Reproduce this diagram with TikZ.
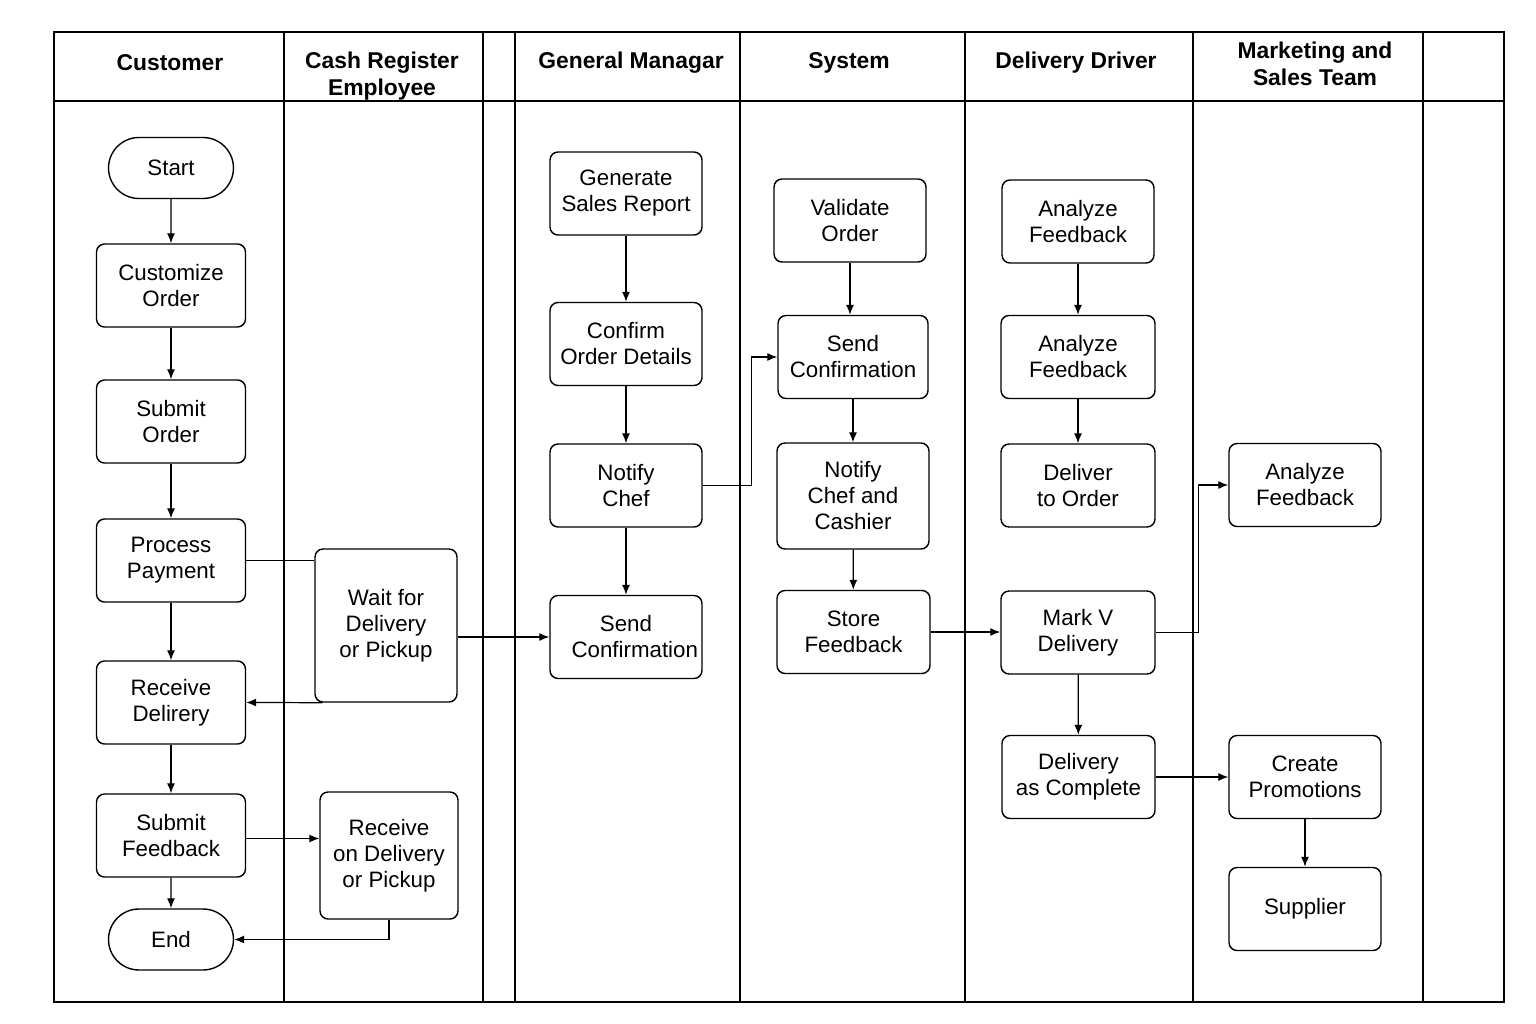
\documentclass[tikz,border=0pt]{standalone}
\usepackage{fontspec}
\setmainfont{Liberation Sans}
\usetikzlibrary{arrows.meta,shapes.misc,calc}
\begin{document}
\begin{tikzpicture}[x=0.02cm,y=-0.02cm,
  txt/.style={font=\fontsize{12.7}{14.8}\selectfont},
  box/.style={draw, line width=0.8pt, rounded corners=0.16cm, align=center, inner sep=0pt,
    minimum width=3.04cm, minimum height=1.66cm, txt},
  term/.style={draw, line width=0.8pt, rounded rectangle, align=center, inner sep=0pt,
    minimum width=2.5cm, minimum height=1.22cm, txt},
  hdr/.style={font=\bfseries\fontsize{13}{15.3}\selectfont, align=center},
  arr/.style={-{Latex[length=2mm,width=1.6mm]}, line width=0.7pt},
  ln/.style={line width=0.7pt},
  frame/.style={line width=0.8pt}]
\useasboundingbox (0,0) rectangle (1536,1024);
% lanes
\draw[frame] (54,32) rectangle (1504,1002);
\draw[frame] (54,101) -- (1504,101);
\foreach \xx in {284,483,515,740,965,1193,1423}
  \draw[frame] (\xx,32) -- (\xx,1002);
% headers
\node[hdr] (h1) at (170,62.5) {Customer};
\node[hdr] (h2) at (382,76) {Cash Register\\Employee};
\node[hdr] (h3) at (631,62.5) {General Managar};
\node[hdr] (h4) at (849,62.5) {System};
\node[hdr] (h5) at (1076,62.5) {Delivery Driver};
\node[hdr] (h6) at (1315,64) {Marketing and\\Sales Team};
% customer lane
\node[term] (start) at (171,168) {Start};
\node[box, minimum width=2.98cm] (cust) at (171,285.5) {Customize\\Order};
\node[box, minimum width=2.98cm] (submit) at (171,421.5) {Submit\\Order};
\node[box, minimum width=2.98cm] (pay) at (171,560.5) {Process\\Payment};
\node[box, minimum width=2.98cm] (recv) at (171,702.5) {Receive\\Delirery};
\node[box, minimum width=2.98cm] (fb) at (171,835.5) {Submit\\Feedback};
\node[term] (end) at (171,939.5) {End};
% cash register lane
\node[box, minimum width=2.84cm, minimum height=3.06cm] (wait) at (386,625.5) {Wait for\\Delivery\\or Pickup};
\node[box, minimum width=2.76cm, minimum height=2.54cm] (rod) at (389,855.5) {Receive\\on Delivery\\or Pickup};
% general manager lane
\node[box] (gen) at (626,193.5) {Generate\\Sales Report};
\node[box] (conf) at (626,344) {Confirm\\Order Details};
\node[box] (notify) at (626,485.5) {Notify\\Chef};
\node[box] (sendgm) at (626,637) {Send\\\hspace*{0.35cm}Confirmation};
% system lane
\node[box] (val) at (850,220.5) {Validate\\Order};
\node[box, minimum width=3.0cm] (sendsys) at (853,357) {Send\\Confirmation};
\node[box, minimum height=2.12cm] (ncc) at (853,496) {Notify\\Chef and\\Cashier};
\node[box, minimum width=3.06cm] (store) at (853.5,632) {Store\\Feedback};
% delivery driver lane
\node[box] (af1) at (1078,221.5) {Analyze\\Feedback};
\node[box, minimum width=3.08cm] (af2) at (1078,357) {Analyze\\Feedback};
\node[box, minimum width=3.08cm] (dto) at (1078,485.5) {Deliver\\to Order};
\node[box, minimum width=3.08cm] (mark) at (1078,632.5) {Mark V\\Delivery};
\node[box, minimum width=3.06cm] (dac) at (1078.5,777) {Delivery\\as Complete};
% marketing lane
\node[box] (afm) at (1305,485) {Analyze\\Feedback};
\node[box] (cp) at (1305,777) {Create\\Promotions};
\node[box] (sup) at (1305,909) {Supplier};
% connectors: customer
\draw[arr] (start) -- (cust);
\draw[arr] (cust) -- (submit);
\draw[arr] (submit) -- (pay);
\draw[arr] (pay) -- (recv);
\draw[arr] (recv) -- (fb);
\draw[arr] (fb) -- (end);
\draw[ln] (pay.east) -- (pay.east -| wait.west);
\draw[arr] ($(wait.south west)+(8,0)$) -- (recv.east);
\draw[arr] (wait.east |- sendgm.west) -- (sendgm.west);
\draw[arr] ($(fb.east)+(0,3)$) -- ($(fb.east -| rod.west)+(0,3)$);
\draw[arr] (rod.south) |- (end.east);
% general manager
\draw[arr] (gen) -- (conf);
\draw[arr] (conf) -- (notify);
\draw[arr] (notify) -- (sendgm);
\draw[arr] (notify.east) -- ++(49,0) |- (sendsys.west);
% system
\draw[arr] (val.south) -- (val.south |- sendsys.north);
\draw[arr] (sendsys) -- (ncc);
\draw[arr] (ncc) -- (store);
\draw[arr] (store.east) -- (store.east -| mark.west);
% delivery driver
\draw[arr] (af1) -- (af2);
\draw[arr] (af2) -- (dto);
\draw[arr] (mark.east) -- ++(43,0) |- (afm.west);
\draw[arr] (mark) -- (dac);
\draw[arr] (dac) -- (cp);
% marketing
\draw[arr] (cp) -- (sup);
\end{tikzpicture}
\end{document}
